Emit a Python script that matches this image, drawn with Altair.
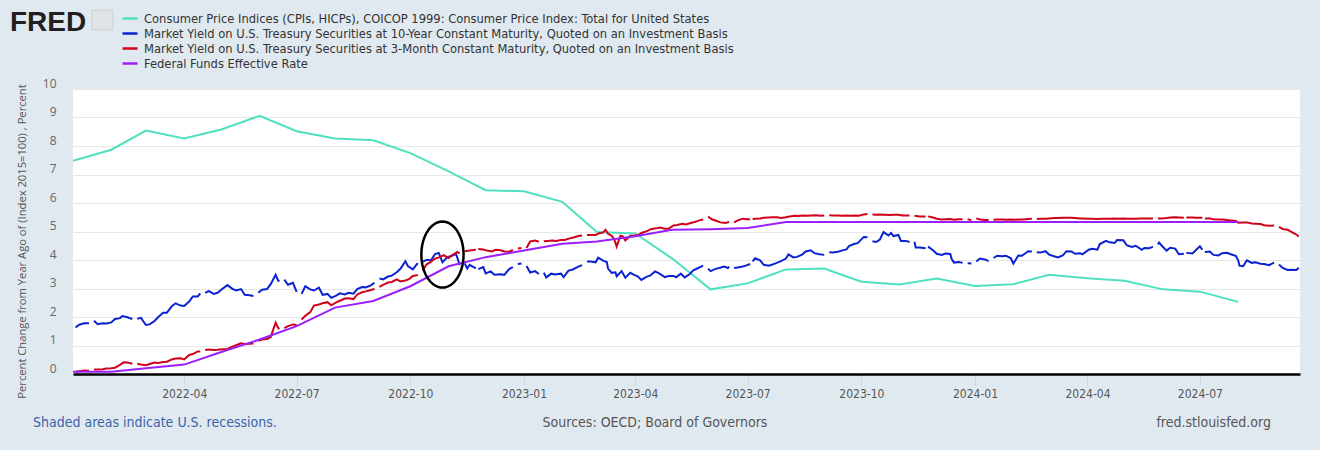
import math
import altair as alt
import pandas as pd

# ---------------- data ----------------
SERIES = [
    "Consumer Price Indices (CPIs, HICPs), COICOP 1999: Consumer Price Index: Total for United States",
    "Market Yield on U.S. Treasury Securities at 10-Year Constant Maturity, Quoted on an Investment Basis",
    "Market Yield on U.S. Treasury Securities at 3-Month Constant Maturity, Quoted on an Investment Basis",
    "Federal Funds Effective Rate",
]
COLORS = ["#4fe0c0", "#0a22d0", "#d0021b", "#9b1ffa"]

months = [d.strftime("%Y-%m-%d") for d in pd.date_range("2022-01-01", "2024-08-01", freq="MS")]

cpi = [7.48, 7.87, 8.54, 8.26, 8.58, 9.06, 8.52, 8.26, 8.20, 7.75, 7.11, 6.45,
       6.41, 6.04, 4.98, 4.93, 4.05, 2.97, 3.18, 3.67, 3.70, 3.24, 3.14, 3.35,
       3.09, 3.15, 3.48, 3.36, 3.27, 2.97, 2.89, 2.53]

fedfunds = [0.08, 0.08, 0.20, 0.33, 0.77, 1.21, 1.68, 2.33, 2.56, 3.08, 3.78, 4.10,
            4.33, 4.57, 4.65, 4.83, 5.06, 5.08, 5.12, 5.33, 5.33, 5.33, 5.33, 5.33,
            5.33, 5.33, 5.33, 5.33, 5.33, 5.33, 5.33, 5.33]

holidays = [
    "2022-01-17", "2022-02-21", "2022-04-15", "2022-05-30", "2022-06-20", "2022-07-04",
    "2022-09-05", "2022-10-10", "2022-11-11", "2022-11-24", "2022-12-26",
    "2023-01-02", "2023-01-16", "2023-02-20", "2023-05-29", "2023-06-19", "2023-07-04",
    "2023-09-04", "2023-10-09", "2023-11-10", "2023-11-23", "2023-12-25",
    "2024-01-01", "2024-01-15", "2024-02-19", "2024-05-27", "2024-06-19", "2024-07-04",
    "2024-09-02",
]

ten_year = [
    ("2022-01-03", 1.63), ("2022-01-06", 1.73), ("2022-01-10", 1.78), ("2022-01-14", 1.78),
    ("2022-01-18", 1.87), ("2022-01-21", 1.75), ("2022-01-25", 1.78), ("2022-01-28", 1.77),
    ("2022-02-01", 1.81), ("2022-02-04", 1.93), ("2022-02-08", 1.96), ("2022-02-10", 2.03),
    ("2022-02-14", 1.99), ("2022-02-18", 1.93), ("2022-02-22", 1.94), ("2022-02-25", 1.97),
    ("2022-03-01", 1.72), ("2022-03-04", 1.74), ("2022-03-08", 1.86), ("2022-03-11", 2.00),
    ("2022-03-15", 2.15), ("2022-03-18", 2.15), ("2022-03-22", 2.38), ("2022-03-25", 2.48),
    ("2022-03-29", 2.40), ("2022-04-01", 2.39), ("2022-04-05", 2.54), ("2022-04-08", 2.72),
    ("2022-04-12", 2.72), ("2022-04-14", 2.83), ("2022-04-18", 2.85), ("2022-04-21", 2.91),
    ("2022-04-25", 2.81), ("2022-04-28", 2.85), ("2022-05-02", 2.99), ("2022-05-06", 3.12),
    ("2022-05-10", 2.99), ("2022-05-13", 2.93), ("2022-05-17", 2.98), ("2022-05-20", 2.78),
    ("2022-05-24", 2.76), ("2022-05-27", 2.74), ("2022-05-31", 2.85), ("2022-06-03", 2.96),
    ("2022-06-07", 2.98), ("2022-06-10", 3.15), ("2022-06-14", 3.48), ("2022-06-16", 3.28),
    ("2022-06-17", 3.25), ("2022-06-21", 3.31), ("2022-06-24", 3.13), ("2022-06-28", 3.20),
    ("2022-07-01", 2.88), ("2022-07-05", 2.81), ("2022-07-08", 3.08), ("2022-07-12", 2.97),
    ("2022-07-15", 2.93), ("2022-07-19", 3.03), ("2022-07-22", 2.78), ("2022-07-26", 2.81),
    ("2022-07-29", 2.67), ("2022-08-02", 2.75), ("2022-08-05", 2.83), ("2022-08-09", 2.79),
    ("2022-08-12", 2.85), ("2022-08-16", 2.82), ("2022-08-19", 2.98), ("2022-08-23", 3.05),
    ("2022-08-26", 3.04), ("2022-08-30", 3.11), ("2022-09-02", 3.20), ("2022-09-06", 3.35),
    ("2022-09-09", 3.32), ("2022-09-13", 3.42), ("2022-09-16", 3.45), ("2022-09-20", 3.57),
    ("2022-09-23", 3.69), ("2022-09-27", 3.96), ("2022-09-29", 3.79), ("2022-10-03", 3.67),
    ("2022-10-07", 3.89), ("2022-10-11", 3.94), ("2022-10-14", 4.00), ("2022-10-18", 4.01),
    ("2022-10-21", 4.21), ("2022-10-24", 4.25), ("2022-10-27", 3.92), ("2022-10-31", 4.10),
    ("2022-11-03", 4.14), ("2022-11-07", 4.21), ("2022-11-10", 3.82), ("2022-11-14", 3.88),
    ("2022-11-16", 3.70), ("2022-11-18", 3.83), ("2022-11-23", 3.71), ("2022-11-25", 3.68),
    ("2022-11-29", 3.75), ("2022-12-01", 3.53), ("2022-12-05", 3.60), ("2022-12-08", 3.48),
    ("2022-12-13", 3.50), ("2022-12-16", 3.48), ("2022-12-20", 3.68), ("2022-12-23", 3.75),
    ("2022-12-27", 3.86), ("2022-12-30", 3.88),
    ("2023-01-03", 3.79), ("2023-01-06", 3.56), ("2023-01-10", 3.61), ("2023-01-13", 3.51),
    ("2023-01-17", 3.55), ("2023-01-19", 3.39), ("2023-01-23", 3.52), ("2023-01-26", 3.49),
    ("2023-01-31", 3.52), ("2023-02-02", 3.40), ("2023-02-06", 3.63), ("2023-02-09", 3.66),
    ("2023-02-14", 3.77), ("2023-02-17", 3.82), ("2023-02-21", 3.95), ("2023-02-24", 3.95),
    ("2023-02-28", 3.92), ("2023-03-02", 4.08), ("2023-03-06", 3.98), ("2023-03-09", 3.93),
    ("2023-03-10", 3.70), ("2023-03-13", 3.55), ("2023-03-16", 3.57), ("2023-03-17", 3.43),
    ("2023-03-21", 3.61), ("2023-03-24", 3.38), ("2023-03-28", 3.55), ("2023-03-31", 3.48),
    ("2023-04-03", 3.43), ("2023-04-06", 3.30), ("2023-04-10", 3.41), ("2023-04-13", 3.45),
    ("2023-04-17", 3.60), ("2023-04-20", 3.54), ("2023-04-25", 3.40), ("2023-04-28", 3.44),
    ("2023-05-02", 3.44), ("2023-05-04", 3.39), ("2023-05-08", 3.52), ("2023-05-11", 3.39),
    ("2023-05-15", 3.50), ("2023-05-18", 3.64), ("2023-05-22", 3.72), ("2023-05-26", 3.80),
    ("2023-05-30", 3.69), ("2023-06-01", 3.61), ("2023-06-05", 3.69), ("2023-06-08", 3.72),
    ("2023-06-12", 3.77), ("2023-06-15", 3.72), ("2023-06-16", 3.77), ("2023-06-20", 3.72),
    ("2023-06-23", 3.74), ("2023-06-27", 3.77), ("2023-06-30", 3.81), ("2023-07-03", 3.86),
    ("2023-07-05", 3.95), ("2023-07-07", 4.06), ("2023-07-11", 3.99), ("2023-07-14", 3.83),
    ("2023-07-18", 3.80), ("2023-07-21", 3.84), ("2023-07-25", 3.91), ("2023-07-28", 3.96),
    ("2023-08-01", 4.05), ("2023-08-03", 4.20), ("2023-08-07", 4.09), ("2023-08-10", 4.11),
    ("2023-08-14", 4.19), ("2023-08-17", 4.30), ("2023-08-21", 4.34), ("2023-08-24", 4.24),
    ("2023-08-28", 4.20), ("2023-09-01", 4.18), ("2023-09-05", 4.27), ("2023-09-08", 4.26),
    ("2023-09-12", 4.29), ("2023-09-15", 4.33), ("2023-09-19", 4.37), ("2023-09-21", 4.49),
    ("2023-09-25", 4.56), ("2023-09-28", 4.59), ("2023-10-03", 4.81), ("2023-10-06", 4.80),
    ("2023-10-10", 4.66), ("2023-10-13", 4.63), ("2023-10-16", 4.72), ("2023-10-19", 4.98),
    ("2023-10-23", 4.86), ("2023-10-25", 4.95), ("2023-10-27", 4.84), ("2023-10-31", 4.88),
    ("2023-11-02", 4.67), ("2023-11-06", 4.67), ("2023-11-09", 4.63), ("2023-11-13", 4.64),
    ("2023-11-14", 4.44), ("2023-11-17", 4.44), ("2023-11-22", 4.41), ("2023-11-24", 4.47),
    ("2023-11-28", 4.34), ("2023-12-01", 4.22), ("2023-12-05", 4.18), ("2023-12-08", 4.23),
    ("2023-12-12", 4.21), ("2023-12-13", 4.04), ("2023-12-15", 3.91), ("2023-12-19", 3.93),
    ("2023-12-22", 3.90), ("2023-12-26", 3.89), ("2023-12-29", 3.88),
    ("2024-01-02", 3.95), ("2024-01-05", 4.05), ("2024-01-09", 4.02), ("2024-01-12", 3.96),
    ("2024-01-16", 4.07), ("2024-01-19", 4.15), ("2024-01-23", 4.13), ("2024-01-26", 4.15),
    ("2024-01-30", 4.06), ("2024-02-01", 3.87), ("2024-02-05", 4.16), ("2024-02-08", 4.15),
    ("2024-02-13", 4.31), ("2024-02-16", 4.30), ("2024-02-20", 4.27), ("2024-02-23", 4.26),
    ("2024-02-27", 4.31), ("2024-03-01", 4.19), ("2024-03-05", 4.13), ("2024-03-08", 4.09),
    ("2024-03-12", 4.16), ("2024-03-15", 4.31), ("2024-03-19", 4.30), ("2024-03-22", 4.22),
    ("2024-03-26", 4.24), ("2024-03-28", 4.20), ("2024-04-02", 4.36), ("2024-04-05", 4.39),
    ("2024-04-09", 4.36), ("2024-04-11", 4.56), ("2024-04-16", 4.67), ("2024-04-19", 4.62),
    ("2024-04-23", 4.60), ("2024-04-25", 4.70), ("2024-04-30", 4.69), ("2024-05-03", 4.51),
    ("2024-05-07", 4.46), ("2024-05-10", 4.50), ("2024-05-15", 4.36), ("2024-05-17", 4.42),
    ("2024-05-21", 4.41), ("2024-05-24", 4.47), ("2024-05-28", 4.55), ("2024-05-29", 4.61),
    ("2024-05-31", 4.51), ("2024-06-04", 4.33), ("2024-06-07", 4.43), ("2024-06-11", 4.40),
    ("2024-06-14", 4.20), ("2024-06-18", 4.22), ("2024-06-20", 4.25), ("2024-06-25", 4.23),
    ("2024-06-28", 4.36), ("2024-07-01", 4.48), ("2024-07-03", 4.36), ("2024-07-05", 4.28),
    ("2024-07-09", 4.30), ("2024-07-12", 4.18), ("2024-07-16", 4.16), ("2024-07-19", 4.24),
    ("2024-07-23", 4.25), ("2024-07-26", 4.20), ("2024-07-30", 4.15), ("2024-08-01", 3.99),
    ("2024-08-02", 3.80), ("2024-08-05", 3.78), ("2024-08-08", 3.99), ("2024-08-12", 3.90),
    ("2024-08-15", 3.92), ("2024-08-19", 3.87), ("2024-08-22", 3.86), ("2024-08-26", 3.82),
    ("2024-08-30", 3.91), ("2024-09-03", 3.84), ("2024-09-06", 3.72), ("2024-09-10", 3.65),
    ("2024-09-13", 3.66), ("2024-09-17", 3.65), ("2024-09-19", 3.73),
]

three_month = [
    ("2022-01-03", 0.08), ("2022-01-06", 0.10), ("2022-01-10", 0.12), ("2022-01-14", 0.11),
    ("2022-01-18", 0.16), ("2022-01-21", 0.16), ("2022-01-25", 0.17), ("2022-01-28", 0.19),
    ("2022-02-01", 0.20), ("2022-02-04", 0.22), ("2022-02-08", 0.32), ("2022-02-11", 0.41),
    ("2022-02-14", 0.40), ("2022-02-18", 0.36), ("2022-02-22", 0.36), ("2022-02-25", 0.33),
    ("2022-03-01", 0.31), ("2022-03-04", 0.35), ("2022-03-08", 0.40), ("2022-03-11", 0.39),
    ("2022-03-15", 0.42), ("2022-03-18", 0.43), ("2022-03-22", 0.51), ("2022-03-25", 0.54),
    ("2022-03-29", 0.55), ("2022-04-01", 0.51), ("2022-04-05", 0.67), ("2022-04-08", 0.70),
    ("2022-04-12", 0.79), ("2022-04-14", 0.79), ("2022-04-18", 0.84), ("2022-04-21", 0.86),
    ("2022-04-25", 0.84), ("2022-04-28", 0.85), ("2022-05-02", 0.87), ("2022-05-06", 0.88),
    ("2022-05-10", 0.96), ("2022-05-13", 1.01), ("2022-05-17", 1.08), ("2022-05-20", 1.05),
    ("2022-05-24", 1.06), ("2022-05-27", 1.07), ("2022-05-31", 1.16), ("2022-06-03", 1.21),
    ("2022-06-07", 1.23), ("2022-06-10", 1.30), ("2022-06-14", 1.80), ("2022-06-16", 1.62),
    ("2022-06-17", 1.58), ("2022-06-21", 1.61), ("2022-06-24", 1.68), ("2022-06-28", 1.74),
    ("2022-07-01", 1.72), ("2022-07-05", 1.91), ("2022-07-08", 2.04), ("2022-07-12", 2.17),
    ("2022-07-15", 2.40), ("2022-07-19", 2.44), ("2022-07-22", 2.48), ("2022-07-26", 2.52),
    ("2022-07-29", 2.41), ("2022-08-02", 2.51), ("2022-08-05", 2.57), ("2022-08-09", 2.65),
    ("2022-08-12", 2.66), ("2022-08-16", 2.63), ("2022-08-19", 2.79), ("2022-08-23", 2.87),
    ("2022-08-26", 2.90), ("2022-08-30", 2.95), ("2022-09-02", 2.98), ("2022-09-06", 3.06),
    ("2022-09-09", 3.13), ("2022-09-13", 3.21), ("2022-09-16", 3.23), ("2022-09-20", 3.32),
    ("2022-09-23", 3.25), ("2022-09-27", 3.28), ("2022-09-30", 3.33), ("2022-10-03", 3.44),
    ("2022-10-07", 3.47), ("2022-10-11", 3.62), ("2022-10-14", 3.84), ("2022-10-18", 3.95),
    ("2022-10-21", 4.05), ("2022-10-25", 4.10), ("2022-10-28", 4.17), ("2022-11-01", 4.07),
    ("2022-11-04", 4.17), ("2022-11-08", 4.28), ("2022-11-10", 4.23), ("2022-11-14", 4.31),
    ("2022-11-18", 4.33), ("2022-11-23", 4.36), ("2022-11-25", 4.39), ("2022-11-29", 4.37),
    ("2022-12-02", 4.33), ("2022-12-06", 4.30), ("2022-12-09", 4.36), ("2022-12-13", 4.34),
    ("2022-12-16", 4.30), ("2022-12-20", 4.29), ("2022-12-23", 4.35), ("2022-12-27", 4.40),
    ("2022-12-30", 4.42),
    ("2023-01-03", 4.42), ("2023-01-06", 4.65), ("2023-01-10", 4.68), ("2023-01-13", 4.64),
    ("2023-01-17", 4.66), ("2023-01-20", 4.67), ("2023-01-24", 4.68), ("2023-01-27", 4.67),
    ("2023-01-31", 4.70), ("2023-02-03", 4.70), ("2023-02-07", 4.76), ("2023-02-10", 4.79),
    ("2023-02-14", 4.84), ("2023-02-17", 4.86), ("2023-02-21", 4.88), ("2023-02-24", 4.88),
    ("2023-02-28", 4.88), ("2023-03-03", 4.94), ("2023-03-06", 4.97), ("2023-03-08", 5.06),
    ("2023-03-10", 4.92), ("2023-03-13", 4.85), ("2023-03-15", 4.73), ("2023-03-17", 4.47),
    ("2023-03-20", 4.85), ("2023-03-22", 4.83), ("2023-03-24", 4.69), ("2023-03-28", 4.85),
    ("2023-03-31", 4.85), ("2023-04-04", 4.89), ("2023-04-06", 4.95), ("2023-04-11", 5.02),
    ("2023-04-14", 5.09), ("2023-04-18", 5.11), ("2023-04-21", 5.14), ("2023-04-25", 5.10),
    ("2023-04-28", 5.10), ("2023-05-02", 5.21), ("2023-05-05", 5.23), ("2023-05-09", 5.27),
    ("2023-05-12", 5.25), ("2023-05-16", 5.30), ("2023-05-19", 5.33), ("2023-05-23", 5.39),
    ("2023-05-26", 5.42), ("2023-05-30", 5.52), ("2023-06-02", 5.43), ("2023-06-06", 5.37),
    ("2023-06-09", 5.32), ("2023-06-13", 5.30), ("2023-06-16", 5.33), ("2023-06-20", 5.32),
    ("2023-06-23", 5.39), ("2023-06-27", 5.45), ("2023-06-30", 5.43), ("2023-07-03", 5.43),
    ("2023-07-05", 5.44), ("2023-07-07", 5.45), ("2023-07-11", 5.46), ("2023-07-14", 5.48),
    ("2023-07-18", 5.49), ("2023-07-21", 5.50), ("2023-07-25", 5.50), ("2023-07-28", 5.47),
    ("2023-08-01", 5.50), ("2023-08-04", 5.53), ("2023-08-08", 5.55), ("2023-08-11", 5.54),
    ("2023-08-15", 5.56), ("2023-08-18", 5.55), ("2023-08-22", 5.56), ("2023-08-25", 5.57),
    ("2023-08-29", 5.55), ("2023-09-01", 5.56), ("2023-09-05", 5.57), ("2023-09-08", 5.56),
    ("2023-09-12", 5.56), ("2023-09-15", 5.55), ("2023-09-19", 5.56), ("2023-09-22", 5.55),
    ("2023-09-26", 5.56), ("2023-09-29", 5.55), ("2023-10-03", 5.60), ("2023-10-06", 5.61),
    ("2023-10-10", 5.60), ("2023-10-13", 5.59), ("2023-10-17", 5.60), ("2023-10-20", 5.59),
    ("2023-10-24", 5.58), ("2023-10-27", 5.59), ("2023-10-31", 5.59), ("2023-11-03", 5.56),
    ("2023-11-06", 5.56), ("2023-11-09", 5.56), ("2023-11-13", 5.55), ("2023-11-17", 5.53),
    ("2023-11-22", 5.53), ("2023-11-24", 5.53), ("2023-11-28", 5.49), ("2023-12-01", 5.45),
    ("2023-12-05", 5.42), ("2023-12-08", 5.43), ("2023-12-12", 5.44), ("2023-12-15", 5.41),
    ("2023-12-19", 5.43), ("2023-12-22", 5.43), ("2023-12-26", 5.43), ("2023-12-29", 5.40),
    ("2024-01-02", 5.46), ("2024-01-05", 5.42), ("2024-01-09", 5.40), ("2024-01-12", 5.40),
    ("2024-01-16", 5.41), ("2024-01-19", 5.42), ("2024-01-23", 5.42), ("2024-01-26", 5.41),
    ("2024-01-30", 5.42), ("2024-02-02", 5.41), ("2024-02-06", 5.42), ("2024-02-09", 5.42),
    ("2024-02-13", 5.44), ("2024-02-16", 5.45), ("2024-02-20", 5.44), ("2024-02-23", 5.45),
    ("2024-02-27", 5.45), ("2024-03-01", 5.46), ("2024-03-05", 5.47), ("2024-03-08", 5.47),
    ("2024-03-12", 5.48), ("2024-03-15", 5.48), ("2024-03-19", 5.48), ("2024-03-22", 5.47),
    ("2024-03-26", 5.46), ("2024-03-28", 5.46), ("2024-04-02", 5.45), ("2024-04-05", 5.45),
    ("2024-04-09", 5.44), ("2024-04-12", 5.45), ("2024-04-16", 5.45), ("2024-04-19", 5.45),
    ("2024-04-23", 5.46), ("2024-04-26", 5.45), ("2024-04-30", 5.46), ("2024-05-03", 5.45),
    ("2024-05-07", 5.45), ("2024-05-10", 5.45), ("2024-05-14", 5.46), ("2024-05-17", 5.46),
    ("2024-05-21", 5.46), ("2024-05-24", 5.46), ("2024-05-28", 5.46), ("2024-05-31", 5.46),
    ("2024-06-04", 5.47), ("2024-06-07", 5.49), ("2024-06-11", 5.50), ("2024-06-14", 5.49),
    ("2024-06-18", 5.48), ("2024-06-20", 5.49), ("2024-06-25", 5.49), ("2024-06-28", 5.48),
    ("2024-07-01", 5.48), ("2024-07-03", 5.48), ("2024-07-05", 5.46), ("2024-07-09", 5.46),
    ("2024-07-12", 5.43), ("2024-07-16", 5.42), ("2024-07-19", 5.42), ("2024-07-23", 5.40),
    ("2024-07-26", 5.39), ("2024-07-30", 5.37), ("2024-08-01", 5.31), ("2024-08-05", 5.32),
    ("2024-08-08", 5.32), ("2024-08-12", 5.28), ("2024-08-15", 5.27), ("2024-08-19", 5.26),
    ("2024-08-22", 5.22), ("2024-08-26", 5.20), ("2024-08-30", 5.21), ("2024-09-03", 5.16),
    ("2024-09-06", 5.09), ("2024-09-10", 5.06), ("2024-09-12", 5.01), ("2024-09-16", 4.92),
    ("2024-09-18", 4.86), ("2024-09-19", 4.82),
]

# annotation ellipse (data coordinates of its centre)
ellipse_at = [("2022-10-27", 4.19)]

x_ticks = ["2022-04-01", "2022-07-01", "2022-10-01", "2023-01-01", "2023-04-01",
           "2023-07-01", "2023-10-01", "2024-01-01", "2024-04-01", "2024-07-01"]
y_ticks = [0, 1, 2, 3, 4, 5, 6, 7, 8, 9, 10]

# ---------------- table ----------------
rows = []
seg = 0
for d, v in zip(months, cpi):
    rows.append({"date": d, "value": v, "series": SERIES[0], "seg": f"a{seg}"})
for name, pairs in [(SERIES[1], ten_year), (SERIES[2], three_month)]:
    pts = sorted([(d, v) for d, v in pairs] + [(h, None) for h in holidays])
    seg += 1
    for d, v in pts:
        if v is None:
            seg += 1
            continue
        rows.append({"date": d, "value": v, "series": name, "seg": f"s{seg}"})
for d, v in zip(months, fedfunds):
    rows.append({"date": d, "value": v, "series": SERIES[3], "seg": "f0"})
df = pd.DataFrame(rows)

COND = "Liberation Sans Narrow, DejaVu Sans Condensed, Arial Narrow, sans-serif"
REG = "Open Sans, Noto Sans, DejaVu Sans, sans-serif"


def dt(s):
    y, m, d = (int(p) for p in s.split("-"))
    return alt.DateTime(year=y, month=m, date=d, utc=True)


xscale = alt.Scale(type="utc", domain=[dt("2022-01-01"), dt("2024-09-20")])
yscale = alt.Scale(domain=[0, 10], nice=False, zero=True)

XAX = alt.Axis(
    title=None, values=[dt(s) for s in x_ticks], tickCount=20,
    labelExpr="utcFormat(datum.value, '%Y-%m')",
    grid=False, domainColor="#000000", domainWidth=2.5,
    tickColor="#c9d6e4", tickSize=11, tickWidth=1,
    labelFont=COND, labelFontSize=12, labelColor="#555555", labelPadding=3,
    labelFlush=False, labelOverlap=False)
YAX = alt.Axis(
    title="Percent Change from Year Ago of (Index 2015=100) , Percent",
    values=y_ticks, tickCount=20, format="d", grid=True, gridColor="#e6e6e6", gridWidth=1,
    domain=False, ticks=False, labelPadding=17, labelFont=REG,
    labelFontSize=12, labelColor="#666666", labelOffset=-6, labelFlush=False,
    labelOverlap=False, titleFont=REG, titleFontSize=11.2,
    titleFontWeight="normal", titleColor="#555555", titleX=-51, titleY=152,
    titleAngle=-90, titleAlign="center", titleBaseline="middle")

lines = alt.Chart(df).mark_line(strokeWidth=2, clip=True).encode(
    x=alt.X("date:T", scale=xscale, axis=XAX),
    y=alt.Y("value:Q", scale=yscale, axis=YAX),
    color=alt.Color("series:N", scale=alt.Scale(domain=SERIES, range=COLORS),
                    legend=alt.Legend(
                        orient="none", legendX=48, legendY=-77, title=None,
                        symbolType="stroke", symbolStrokeWidth=2.5, symbolSize=225,
                        labelFont=COND, labelFontSize=12.8, labelColor="#333333",
                        labelLimit=2000, rowPadding=1, padding=0, clipHeight=13,
                        labelOffset=5)),
    detail="seg:N",
)

# ellipse path (unit box -1..1)
ratio = 0.64
pts = [(ratio * math.sin(2 * math.pi * k / 60), -math.cos(2 * math.pi * k / 60)) for k in range(60)]
ell_path = "M" + " L".join(f"{x:.3f},{y:.3f}" for x, y in pts) + " Z"
ell_df = pd.DataFrame([{"date": d, "value": v} for d, v in ellipse_at])
ellipse = alt.Chart(ell_df).mark_point(
    shape=ell_path, size=66 * 66, filled=False, color="#000000",
    strokeWidth=2.5, opacity=1).encode(
    x=alt.X("date:T", scale=xscale, axis=XAX), y=alt.Y("value:Q", scale=yscale, axis=YAX))

# logo and footer texts
logo = alt.Chart(pd.DataFrame({"t": ["FRED"]})).mark_text(
    font="Liberation Sans, Arial, sans-serif", fontSize=28, fontWeight="bold",
    color="#231f20", align="left", baseline="alphabetic").encode(
    x=alt.value(-63), y=alt.value(-58), text="t:N")
icon = alt.Chart(pd.DataFrame({"t": [0]})).mark_rect(
    fill="#dfe3e6", stroke="#c9cfd4", strokeWidth=1).encode(
    x=alt.value(19), x2=alt.value(40), y=alt.value(-79), y2=alt.value(-59))

foot_left = alt.Chart(pd.DataFrame({"t": ["Shaded areas indicate U.S. recessions."]})).mark_text(
    font=COND, fontSize=14, color="#3b63a8", align="left", baseline="middle").encode(
    x=alt.value(-40), y=alt.value(334), text="t:N")
foot_mid = alt.Chart(pd.DataFrame({"t": ["Sources: OECD; Board of Governors"]})).mark_text(
    font=COND, fontSize=14, color="#555555", align="center", baseline="middle").encode(
    x=alt.value(582), y=alt.value(334), text="t:N")
foot_right = alt.Chart(pd.DataFrame({"t": ["fred.stlouisfed.org"]})).mark_text(
    font=COND, fontSize=14, color="#555555", align="right", baseline="middle").encode(
    x=alt.value(1198), y=alt.value(334), text="t:N")

chart = alt.layer(lines, ellipse, logo, icon, foot_left, foot_mid, foot_right).properties(
    width=1227, height=285,
    padding={"left": 73, "top": 89, "right": 20, "bottom": 76},
    autosize=alt.AutoSizeParams(type="none"),
    background="#e1e9f0",
).configure_view(fill="white", stroke=None)

chart.save("out.html", embed_options={"renderer": "svg", "actions": False})
